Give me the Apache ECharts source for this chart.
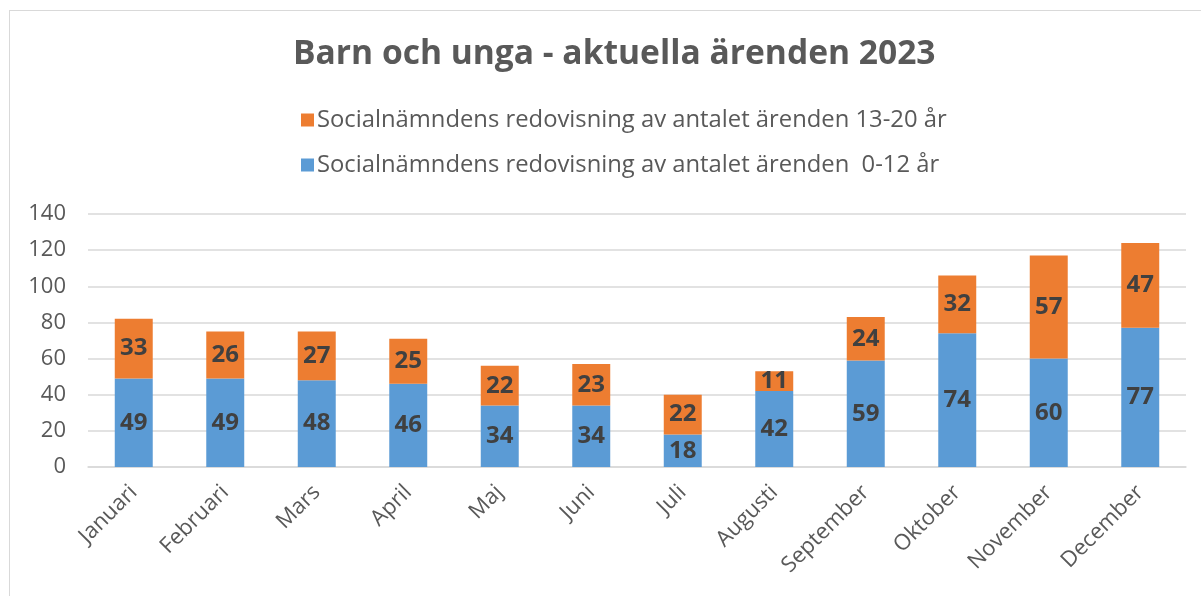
<!DOCTYPE html>
<html>
<head>
<meta charset="utf-8">
<script src="https://cdn.jsdelivr.net/npm/echarts@6/dist/echarts.min.js"></script>
<style>
  body { margin: 0; background: #fff; }
  #frame { position: absolute; left: 9px; top: 10px; width: 1220px; height: 620px; border: 1px solid #d9d9d9; }
  #chart { position: absolute; left: 0; top: 0; width: 1201px; height: 596px; }
</style>
</head>
<body>
<div id="frame"></div>
<div id="chart"></div>
<script>
var months = ['Januari', 'Februari', 'Mars', 'April', 'Maj', 'Juni', 'Juli', 'Augusti', 'September', 'Oktober', 'November', 'December'];
var young = [49, 49, 48, 46, 34, 34, 18, 42, 59, 74, 60, 77];
var teen = [33, 26, 27, 25, 22, 23, 22, 11, 24, 32, 57, 47];
var nameYoung = 'Socialnämndens redovisning av antalet ärenden  0-12 år';
var nameTeen = 'Socialnämndens redovisning av antalet ärenden 13-20 år';

var font = '"Open Sans", Roboto, sans-serif';
var chart = echarts.init(document.getElementById('chart'));

// etikett mitt i varje stapel
var barLabel = {
    show: true,
    position: 'inside',
    color: '#404040',
    fontSize: 24,
    fontWeight: 'bold',
    fontFamily: font
};

chart.setOption({
    animation: false,
    title: {
        text: 'Barn och unga - aktuella ärenden 2023',
        left: 288,
        top: 32,
        textStyle: { color: '#595959', fontSize: 33.6, fontWeight: 'bold', fontFamily: font }
    },
    legend: {
        orient: 'vertical',
        left: 296,
        top: 103,
        itemGap: 21,
        itemWidth: 13,
        itemHeight: 13,
        icon: 'rect',
        data: [nameTeen, nameYoung],
        textStyle: { color: '#595959', fontSize: 23.8, fontFamily: font, padding: [0, 0, 0, -2] }
    },
    grid: { left: 88, right: 15, top: 214, bottom: 129 },
    xAxis: {
        type: 'category',
        data: months,
        axisLine: { lineStyle: { color: '#d9d9d9', width: 1.5 } },
        axisTick: { show: false },
        axisLabel: { rotate: 45, margin: 22, color: '#595959', fontSize: 22, fontFamily: font, interval: 0 }
    },
    yAxis: {
        type: 'value',
        min: 0,
        max: 140,
        interval: 20,
        axisLine: { show: false },
        axisTick: { show: false },
        axisLabel: { margin: 22, color: '#595959', fontSize: 22, fontFamily: font },
        splitLine: { lineStyle: { color: '#d9d9d9', width: 1.5 } }
    },
    series: [
        {
            name: nameYoung,
            type: 'bar',
            stack: 'total',
            barWidth: '41.5%',
            itemStyle: { color: '#5B9BD5' },
            label: barLabel,
            data: young
        },
        {
            name: nameTeen,
            type: 'bar',
            stack: 'total',
            barWidth: '41.5%',
            itemStyle: { color: '#ED7D31' },
            label: barLabel,
            data: teen
        }
    ]
});
</script>
</body>
</html>
